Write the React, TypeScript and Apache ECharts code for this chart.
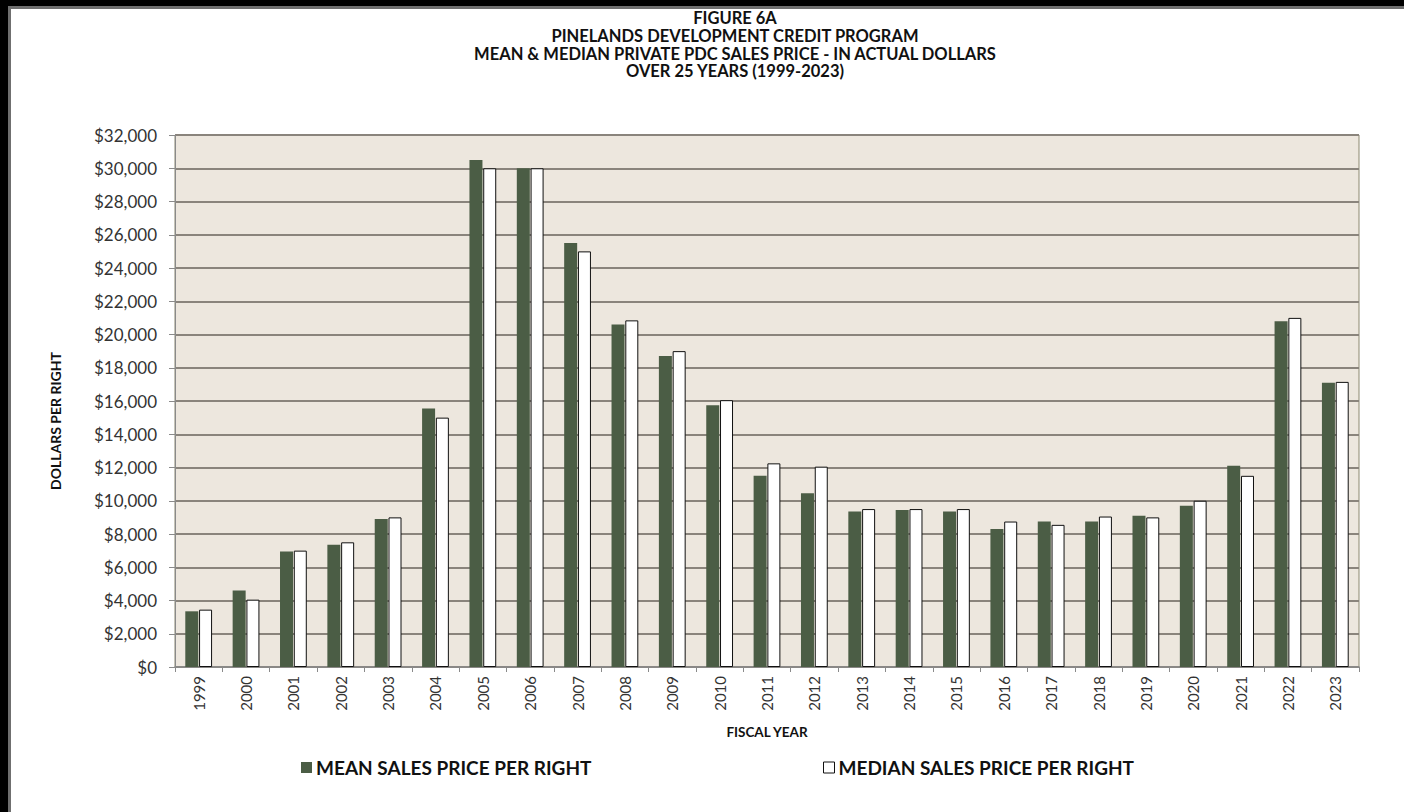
import React, { useEffect, useRef } from "react";
import * as echarts from "echarts";

const years = ["1999","2000","2001","2002","2003","2004","2005","2006","2007","2008","2009","2010","2011","2012","2013","2014","2015","2016","2017","2018","2019","2020","2021","2022","2023"];
const meanPrice = [3350, 4600, 6950, 7350, 8900, 15550, 30500, 30000, 25500, 20600, 18700, 15750, 11500, 10450, 9350, 9450, 9350, 8300, 8750, 8750, 9100, 9700, 12100, 20800, 17100];
const medianPrice = [3450, 4050, 7000, 7500, 9000, 15000, 30000, 30000, 25000, 20850, 19000, 16050, 12250, 12050, 9500, 9500, 9500, 8750, 8550, 9050, 9000, 10000, 11500, 21000, 17150];
const yTicks = { min: 0, max: 32000, interval: 2000 };
const titleLines = ["FIGURE 6A", "PINELANDS DEVELOPMENT CREDIT PROGRAM", "MEAN & MEDIAN PRIVATE PDC SALES PRICE - IN ACTUAL DOLLARS", "OVER 25 YEARS (1999-2023)"];
const seriesNames = ["MEAN SALES PRICE PER RIGHT", "MEDIAN SALES PRICE PER RIGHT"];

const FONT = "Lato, 'Open Sans', sans-serif";

export default function App() {
  const ref = useRef<HTMLDivElement>(null);
  useEffect(() => {
    if (!ref.current) return;
    const chart = echarts.init(ref.current, undefined, { renderer: "svg" });
    chart.setOption({
      animation: false,
      backgroundColor: "transparent",
      textStyle: { fontFamily: FONT },
      title: {
        text: titleLines.join("\n"),
        left: 730,
        top: 4,
        textAlign: "center",
        textStyle: { fontSize: 16.5, fontWeight: "bold", color: "#111", lineHeight: 17.8, fontFamily: FONT },
      },
      legend: [
        {
          data: [{ name: seriesNames[0], icon: "rect", itemStyle: { color: "#4b5d45", borderWidth: 0 } }],
          left: 296,
          top: 753,
          itemWidth: 11,
          itemHeight: 11,
          textStyle: { fontSize: 19, fontWeight: "bold", color: "#111", fontFamily: FONT, padding: [0, 0, 0, -1] },
        },
        {
          data: [{ name: seriesNames[1], icon: "rect", itemStyle: { color: "#fff", borderColor: "#111", borderWidth: 1 } }],
          left: 818,
          top: 753,
          itemWidth: 11,
          itemHeight: 11,
          textStyle: { fontSize: 19, fontWeight: "bold", color: "#111", fontFamily: FONT, padding: [0, 0, 0, -1] },
        },
      ],
      grid: {
        left: 175,
        top: 135,
        right: 45,
        bottom: 145,
        show: true,
        backgroundColor: "#ede7de",
        borderColor: "#8c8870",
        borderWidth: 1,
        containLabel: false,
      },
      xAxis: {
        type: "category",
        data: years,
        name: "FISCAL YEAR",
        nameLocation: "middle",
        nameGap: 58,
        nameTextStyle: { fontSize: 13.5, fontWeight: "bold", color: "#111", fontFamily: FONT },
        axisLine: { lineStyle: { color: "#8a8a8a", width: 1.5 } },
        axisTick: { show: true, length: 5, lineStyle: { color: "#8a8a8a" }, alignWithLabel: false },
        axisLabel: { rotate: 90, fontSize: 15, color: "#333", margin: 9, fontFamily: FONT },
        splitLine: { show: false },
      },
      yAxis: {
        type: "value",
        min: yTicks.min,
        max: yTicks.max,
        interval: yTicks.interval,
        axisLine: { show: true, lineStyle: { color: "#8a8a8a", width: 1 } },
        axisTick: { show: true, length: 6, lineStyle: { color: "#8a8a8a" } },
        axisLabel: {
          fontSize: 17,
          color: "#333",
          margin: 18,
          fontFamily: FONT,
          formatter: (v: number) => "$" + v.toLocaleString("en-US"),
        },
        splitLine: { show: true, lineStyle: { color: "#8a847c", width: 1.8 } },
      },
      graphic: [
        {
          type: "text",
          x: 55,
          y: 421,
          rotation: Math.PI / 2,
          style: {
            text: "DOLLARS PER RIGHT",
            fontSize: 14,
            fontWeight: "bold",
            fill: "#111",
            fontFamily: FONT,
            align: "center",
            verticalAlign: "middle",
          },
        },
      ],
      series: [
        {
          name: seriesNames[0],
          type: "bar",
          data: meanPrice,
          barWidth: 13,
          barGap: "6%",
          itemStyle: { color: "#4b5d45" },
        },
        {
          name: seriesNames[1],
          type: "bar",
          data: medianPrice,
          barWidth: 13,
          itemStyle: { color: "#ffffff", borderColor: "#111", borderWidth: 1 },
        },
      ],
    });
    return () => chart.dispose();
  }, []);

  return (
    <div style={{ position: "fixed", left: 0, top: 0, width: 1404, height: 812, background: "#000", overflow: "hidden" }}>
      <div
        style={{
          position: "absolute",
          left: 8,
          top: 6,
          width: 1396,
          height: 806,
          background: "#fff",
          borderLeft: "3px solid #6f6f6f",
          borderTop: "3px solid #6f6f6f",
          boxSizing: "border-box",
        }}
      />
      <div ref={ref} style={{ position: "absolute", left: 0, top: 0, width: 1404, height: 812 }} />
    </div>
  );
}
